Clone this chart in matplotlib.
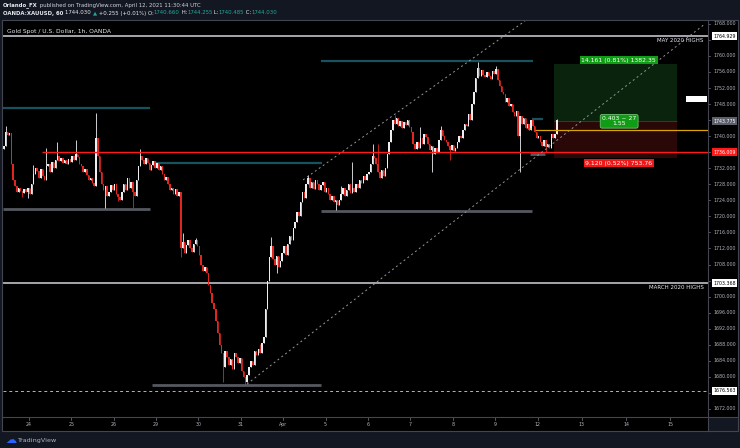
import numpy as np
import matplotlib
matplotlib.use("Agg")
import matplotlib.pyplot as plt
from matplotlib.offsetbox import TextArea, HPacker, AnchoredOffsetbox

W, H = 740, 448

# ---------------- data (XAUUSD 1h) ----------------
first_open = 1736.8
closes = [
    1737.5, 1741.0, 1740.2, 1740.8, 1733.0, 1729.0,
    1727.5, 1726.0, 1727.2, 1726.4, 1725.8, 1726.9, 1726.2, 1727.0, 1725.6,
    1728.0, 1730.5, 1732.0, 1731.2,
    1729.5, 1731.8, 1730.0, 1729.0, 1732.5, 1733.0,
    1731.0, 1733.5, 1732.0, 1734.0, 1735.0, 1733.8, 1734.5,
    1733.2, 1734.0, 1733.0, 1734.2, 1733.5, 1735.0, 1734.0, 1735.5, 1734.8,
    1733.0, 1732.5, 1731.0, 1731.8, 1730.2, 1729.0, 1729.6, 1728.2, 1727.5,
    1739.5, 1735.0, 1731.0, 1728.0, 1726.5,
    1727.5, 1725.2, 1726.0, 1727.8, 1726.6, 1728.0, 1725.5, 1724.8,
    1724.2, 1726.0,
    1728.0, 1726.5, 1729.5, 1727.0, 1728.5, 1726.2, 1725.0,
    1729.0, 1732.5, 1735.0, 1734.0, 1733.0,
    1734.5, 1733.2, 1731.5, 1732.8,
    1733.8, 1732.0, 1733.2, 1731.5, 1732.5,
    1730.5, 1729.0, 1729.8, 1728.0, 1726.5, 1727.2, 1725.5, 1726.8, 1725.0, 1726.2,
    1712.0,
    1713.5, 1711.0, 1712.8, 1714.0, 1712.0, 1711.2, 1713.0, 1714.2, 1712.5, 1710.5,
    1708.0, 1706.5, 1707.5, 1706.0,
    1703.0, 1701.0, 1698.5, 1697.0,
    1694.0, 1691.0, 1688.0, 1686.0,
    1682.5, 1686.5, 1685.0, 1683.0, 1684.5, 1682.0, 1686.0, 1685.0, 1683.5, 1684.8, 1681.5,
    1680.0, 1678.8, 1680.5,
    1682.5, 1684.0, 1683.0, 1686.5, 1685.5, 1687.0, 1686.0, 1688.5, 1690.0,
    1697.0, 1704.0, 1710.0,
    1712.5, 1709.5, 1708.0, 1710.2, 1707.5, 1709.0,
    1711.0, 1712.5, 1710.5, 1713.0, 1715.0, 1714.0, 1717.0,
    1718.5, 1721.0, 1720.0, 1723.5, 1726.0, 1724.5, 1728.0, 1729.5,
    1727.0, 1728.5, 1726.8, 1729.0, 1728.0, 1726.5, 1727.8,
    1728.5, 1726.0, 1727.0, 1725.5, 1724.0, 1725.0, 1723.5, 1724.2, 1722.8, 1724.0, 1725.5,
    1727.0, 1725.0, 1726.5, 1728.0, 1725.8, 1727.2, 1726.0,
    1728.0, 1727.0, 1729.0, 1728.2, 1730.0, 1729.0, 1730.5, 1731.0,
    1733.0, 1735.0, 1734.5,
    1733.0, 1731.0, 1729.5, 1731.5, 1730.0, 1732.0,
    1735.5, 1738.5, 1741.5, 1744.0,
    1743.0, 1744.5,
    1742.5, 1743.8, 1742.0, 1743.5, 1742.8, 1744.0, 1742.2, 1741.0,
    1738.0, 1736.8,
    1738.5, 1737.0, 1739.5, 1738.0, 1740.5, 1739.8,
    1738.0, 1736.5, 1737.5, 1735.5, 1737.0, 1736.0,
    1739.0, 1741.5, 1740.0, 1739.0, 1738.5,
    1737.5, 1736.5, 1737.8, 1736.2, 1737.0,
    1738.5, 1740.0, 1739.5, 1741.5, 1743.0, 1742.5,
    1745.5, 1744.0, 1748.0,
    1751.0, 1754.5, 1757.0,
    1755.0, 1756.5, 1755.2, 1754.8, 1756.0, 1755.0, 1754.3, 1756.2, 1755.5, 1756.8,
    1754.0, 1752.5, 1751.0,
    1750.5, 1748.5, 1749.5, 1747.5, 1748.0,
    1746.0, 1745.0, 1746.2, 1740.0,
    1745.0,
    1743.0, 1744.5, 1742.0, 1743.0, 1741.5, 1744.0, 1742.5,
    1741.0, 1739.5, 1740.0, 1738.5,
    1737.5, 1739.0, 1737.2, 1738.0, 1737.0,
    1740.5, 1739.5, 1740.66, 1744.03,
]
# wicks that stick out of the bodies
wick_highs = {1: 1742.5, 16: 1732.8, 23: 1737.0, 29: 1738.6, 39: 1739.0, 50: 1745.8,
              74: 1736.8, 97: 1715.9, 104: 1714.6, 139: 1688.2, 145: 1714.8,
              165: 1730.3, 183: 1727.5, 189: 1733.6, 200: 1738.0, 203: 1738.0,
              212: 1745.3, 226: 1742.3, 237: 1742.5, 257: 1758.5, 267: 1757.5,
              300: 1744.255}
wick_lows = {10: 1724.8, 13: 1724.5, 55: 1722.0, 62: 1723.8, 70: 1722.0, 96: 1710.0,
             119: 1678.7, 131: 1677.9, 148: 1706.0, 180: 1721.6, 232: 1731.0,
             242: 1734.0, 280: 1731.0, 294: 1736.0, 300: 1740.485}

day_labels = ['24', '25', '26', '29', '30', '31', 'Apr', '5', '6', '7', '8', '9',
              '12', '13', '14', '15']
day_starts = [14 + 23 * k for k in range(13)] + [314, 338, 362]

price_ticks = list(range(1672, 1769, 4))
may_high = 1764.929
march_high = 1703.368
red_level = 1736.009
dotted_level = 1676.563
yellow_level = 1741.5
entry, target, stop = 1743.775, 1757.936, 1734.655

# ---------------- figure ----------------
bg = '#131722'
fig = plt.figure(figsize=(W / 100, H / 100), dpi=100, facecolor=bg)


def frac(x0, y0, x1, y1):
    return [x0 / W, 1 - y1 / H, (x1 - x0) / W, (y1 - y0) / H]


ax = fig.add_axes(frac(3, 21, 708, 417), facecolor='black')
pax = fig.add_axes(frac(708, 21, 738, 417), facecolor='black')
tax = fig.add_axes(frac(3, 417, 708, 431), facecolor='black')
for a in (ax, pax, tax):
    a.set_xticks([])
    a.set_yticks([])
    for s in a.spines.values():
        s.set_visible(False)

ylo, yhi = 1670.0, 1768.7
xlo, xhi = -0.49, 382.0
ax.set_xlim(xlo, xhi)
ax.set_ylim(ylo, yhi)
pax.set_xlim(0, 1)
pax.set_ylim(ylo, yhi)
tax.set_xlim(xlo, xhi)
tax.set_ylim(0, 1)

# candles
c = np.array(closes)
o = np.concatenate([[first_open], c[:-1]])
hi = np.maximum(o, c)
lo = np.minimum(o, c)
for k, v in wick_highs.items():
    hi[k] = max(hi[k], v)
for k, v in wick_lows.items():
    lo[k] = min(lo[k], v)
x = np.arange(len(c))
up = c >= o
col = np.where(up, '#eceef2', '#e0261f')
ax.vlines(x, lo, hi, colors=col, lw=0.6, zorder=4)
ax.bar(x, np.maximum(np.abs(c - o), 0.25), bottom=np.minimum(o, c), width=0.8,
       color=col, lw=0, zorder=5)

# position tool
ax.fill_between([298.5, 365.2], entry, target, color='#0a230d', lw=0, zorder=1)
ax.fill_between([298.5, 365.2], stop, entry, color='#2a0808', lw=0, zorder=1)
ax.hlines(entry, 298.5, 365.2, color='#3a3d45', lw=0.6, zorder=1)

# levels
teal = '#17525e'
grey = '#55585f'
ax.hlines([1747.0, 1733.4, 1758.8, 1744.3], [xlo, 80.9, 172.0, 286.5],
          [79.3, 172.6, 287.1, 292.5], color=teal, lw=1.6, zorder=2)
ax.hlines([1721.8, 1678.0, 1721.4, 1735.5], [xlo, 80.3, 172.0, 285.5],
          [79.3, 172.0, 286.5, 293.6], color=grey, lw=2.0, zorder=2)
ax.axhline(may_high, color='#d1d4dc', lw=1.1, zorder=3)
ax.axhline(march_high, color='#d1d4dc', lw=1.1, zorder=3)
ax.hlines(red_level, 20.7, xhi, color='#ff1a1a', lw=1.0, zorder=6)
ax.hlines(yellow_level, 288.2, xhi, color='#d9a404', lw=0.9, zorder=6)
ax.text(285.5, yellow_level, 'P', color='#d9a404', fontsize=3, ha='center',
        va='center', zorder=6)
ax.axhline(dotted_level, color='#b2b5be', lw=0.7, ls=(0, (3, 3)), zorder=3)

# channel
ax.plot([131.9, 380.4], [1678.2, 1768.0], color='#9598a1', lw=0.7,
        ls=(0, (2, 3)), zorder=6)
ax.plot([162.3, 282.7], [1729.1, 1768.7], color='#9598a1', lw=0.7,
        ls=(0, (2, 3)), zorder=6)

# labels in pane
ax.text(379.5, may_high - 1.1, 'MAY 2020 HIGHS', color='#e6e8ee', fontsize=4,
        ha='right', va='center', family='DejaVu Sans', zorder=7)
ax.text(379.5, march_high - 1.0, 'MARCH 2020 HIGHS', color='#e6e8ee', fontsize=4,
        ha='right', va='center', family='DejaVu Sans', zorder=7)
ax.text(333.5, target + 1.0, '14.161 (0.81%) 1382.35', color='white', fontsize=4.4,
        ha='center', va='center', zorder=8,
        bbox=dict(boxstyle='square,pad=0.25', fc='#109c14', ec='none'))
ax.text(333.8, 1743.7, '0.403 ~ 27\n1.55', color='white', fontsize=4.4,
        ha='center', va='center', linespacing=1.0, zorder=8,
        bbox=dict(boxstyle='round,pad=0.3,rounding_size=0.3', fc='#109c14',
                  ec='#7fd07f', lw=0.5))
ax.text(333.5, stop - 1.4, '9.120 (0.52%) 753.76', color='white', fontsize=4.4,
        ha='center', va='center', zorder=8,
        bbox=dict(boxstyle='square,pad=0.25', fc='#f01818', ec='none'))
ax.fill_between([369.8, 381.2], 1748.4, 1750.1, color='white', lw=0, zorder=8)
ax.text(0.006, 0.98, 'Gold Spot / U.S. Dollar, 1h, OANDA', transform=ax.transAxes,
        color='#e6e8ee', fontsize=4.3, ha='left', va='top')

# price scale (marked levels hide the nearby round ticks)
marks = [(may_high, 'white', 'black'), (entry, '#5d606b', 'white'),
         (red_level, '#ff1a1a', 'white'), (march_high, 'white', 'black'),
         (dotted_level, 'white', 'black')]
for p in price_ticks:
    pax.plot([0, 0.08], [p, p], color='#787b86', lw=0.5)
    if min(abs(p - m[0]) for m in marks) < 1.8:
        continue
    pax.text(0.17, p, f'{p:.3f}', color='#b2b5be', fontsize=3.4, ha='left',
             va='center')
for p, fc, tc in marks:
    pax.text(0.17, p, f'{p:.3f}', color=tc, fontsize=3.4, ha='left', va='center',
             zorder=5, bbox=dict(boxstyle='square,pad=0.3', fc=fc, ec='none'))

# time scale
for d, lab in zip(day_starts, day_labels):
    tax.plot([d - 0.5, d - 0.5], [1, 0.82], color='#787b86', lw=0.5)
    tax.text(d - 0.5, 0.45, lab, color='#b2b5be', fontsize=3.4, ha='center',
             va='center')

# frame
frame = '#434651'
fig.add_artist(plt.Rectangle((2 / W, 1 - 431 / H), 736 / W, 411 / H,
                             transform=fig.transFigure, fill=False, ec=frame, lw=0.8))
fig.add_artist(plt.Line2D([708 / W, 708 / W], [1 - 431 / H, 1 - 21 / H],
                          transform=fig.transFigure, color=frame, lw=0.8))
fig.add_artist(plt.Line2D([2 / W, 738 / W], [1 - 417 / H, 1 - 417 / H],
                          transform=fig.transFigure, color=frame, lw=0.8))

# header
fs = 3.9
teal_txt = '#26a69a'
line1 = HPacker(children=[
    TextArea('Orlando_FX', textprops=dict(color='#e6e8ee', fontsize=fs, weight='bold')),
    TextArea(' published on TradingView.com, April 12, 2021 11:30:44 UTC',
             textprops=dict(color='#d1d4dc', fontsize=fs)),
], pad=0, sep=0)
parts = [('OANDA:XAUUSD, 60 ', '#e6e8ee', 'bold'), ('1744.030 ', '#e6e8ee', 'normal'),
         ('▲', teal_txt, 'normal'), (' +0.255 (+0.01%) O:', '#e6e8ee', 'normal'),
         ('1740.660', teal_txt, 'normal'), (' H:', '#e6e8ee', 'normal'),
         ('1744.255', teal_txt, 'normal'), (' L:', '#e6e8ee', 'normal'),
         ('1740.485', teal_txt, 'normal'), (' C:', '#e6e8ee', 'normal'),
         ('1744.030', teal_txt, 'normal')]
line2 = HPacker(children=[TextArea(t, textprops=dict(color=cl, fontsize=fs, weight=w))
                          for t, cl, w in parts], pad=0, sep=0)
for box, ytop in ((line1, 2.5), (line2, 10.5)):
    anch = AnchoredOffsetbox(loc='upper left', child=box, pad=0, borderpad=0,
                             frameon=False, bbox_to_anchor=(3 / W, 1 - ytop / H),
                             bbox_transform=fig.transFigure)
    fig.add_artist(anch)

# footer logo
fig.text(5 / W, 1 - 440 / H, '☁', color='#2962ff', fontsize=8, ha='left',
         va='center', family='DejaVu Sans')
fig.text(17 / W, 1 - 440 / H, 'TradingView', color='#b2b5be', fontsize=4.6,
         ha='left', va='center')

fig.savefig('out.png', dpi=100, facecolor=bg)
